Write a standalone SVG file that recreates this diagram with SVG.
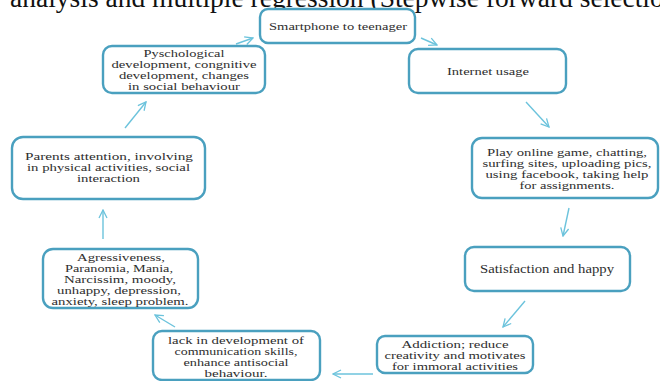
<svg xmlns="http://www.w3.org/2000/svg" width="660" height="381" viewBox="0 0 660 381">
<defs>
<style>
.box{fill:#fff;stroke:#4aa0bf;stroke-width:2.4}
.t{font-family:"Liberation Serif","Times New Roman",serif;font-size:11px;fill:#2e2e2e;text-anchor:middle}
.m{font-size:12px}
.s{font-size:10.5px}
.cn{fill:none;stroke:#6cc3dc;stroke-width:1.4}
.title{font-family:"Liberation Serif","Times New Roman",serif;font-size:27.5px;fill:#111}
</style>
<marker id="ah" viewBox="0 0 10 10" refX="9" refY="5" markerWidth="10" markerHeight="10" markerUnits="userSpaceOnUse" orient="auto">
<path d="M1,1 L9,5 L1,9" fill="none" stroke="#6cc3dc" stroke-width="1.3"/>
</marker>
</defs>
<rect width="660" height="381" fill="#fff"/>
<text class="title" x="10" y="7">analysis and multiple regression (Stepwise forward selection</text>

<g id="connectors">
<line class="cn" x1="421" y1="38" x2="437" y2="45" marker-end="url(#ah)"/>
<line class="cn" x1="526" y1="102" x2="549" y2="127" marker-end="url(#ah)"/>
<line class="cn" x1="569" y1="208" x2="563" y2="236" marker-end="url(#ah)"/>
<line class="cn" x1="525" y1="301" x2="503" y2="327" marker-end="url(#ah)"/>
<line class="cn" x1="373" y1="374" x2="333" y2="374" marker-end="url(#ah)"/>
<line class="cn" x1="175" y1="327" x2="155" y2="315" marker-end="url(#ah)"/>
<line class="cn" x1="103" y1="239" x2="103" y2="210" marker-end="url(#ah)"/>
<line class="cn" x1="125" y1="128" x2="146" y2="102" marker-end="url(#ah)"/>
<line class="cn" x1="236" y1="44" x2="253" y2="38" marker-end="url(#ah)"/>
</g>

<g id="smartphone">
<rect class="box" x="260" y="9" width="155" height="34" rx="8"/>
<text class="t s" x="338" y="30" textLength="138" lengthAdjust="spacingAndGlyphs">Smartphone to teenager</text>
</g>

<g id="internet">
<rect class="box" x="409" y="49" width="157" height="44" rx="9"/>
<text class="t s" x="488" y="75" textLength="82" lengthAdjust="spacingAndGlyphs">Internet usage</text>
</g>

<g id="activities">
<rect class="box" x="472" y="138" width="186" height="60" rx="10"/>
<text class="t" x="567" y="156" textLength="160" lengthAdjust="spacingAndGlyphs">Play online game, chatting,</text>
<text class="t" x="567" y="167" textLength="169" lengthAdjust="spacingAndGlyphs">surfing sites, uploading pics,</text>
<text class="t" x="567" y="178" textLength="163" lengthAdjust="spacingAndGlyphs">using facebook, taking help</text>
<text class="t" x="567" y="189" textLength="95" lengthAdjust="spacingAndGlyphs">for assignments.</text>
</g>

<g id="satisfaction">
<rect class="box" x="465" y="247" width="165" height="44" rx="9"/>
<text class="t m" x="547" y="273" textLength="134" lengthAdjust="spacingAndGlyphs">Satisfaction and happy</text>
</g>

<g id="addiction">
<rect class="box" x="377" y="336" width="156" height="37" rx="8"/>
<text class="t" x="455" y="348" textLength="107" lengthAdjust="spacingAndGlyphs">Addiction; reduce</text>
<text class="t" x="455" y="359" textLength="141" lengthAdjust="spacingAndGlyphs">creativity and motivates</text>
<text class="t" x="455" y="370" textLength="126" lengthAdjust="spacingAndGlyphs">for immoral activities</text>
</g>

<g id="communication">
<rect class="box" x="153" y="331" width="167" height="49" rx="9"/>
<text class="t" x="236" y="344" textLength="136" lengthAdjust="spacingAndGlyphs">lack in development of</text>
<text class="t" x="236" y="355" textLength="123" lengthAdjust="spacingAndGlyphs">communication skills,</text>
<text class="t" x="236" y="366" textLength="105" lengthAdjust="spacingAndGlyphs">enhance antisocial</text>
<text class="t" x="236" y="377" textLength="63" lengthAdjust="spacingAndGlyphs">behaviour.</text>
</g>

<g id="aggressiveness">
<rect class="box" x="43" y="249" width="155" height="59" rx="10"/>
<text class="t" x="121" y="261" textLength="88" lengthAdjust="spacingAndGlyphs">Agressiveness,</text>
<text class="t" x="119" y="272" textLength="108" lengthAdjust="spacingAndGlyphs">Paranomia, Mania,</text>
<text class="t" x="120" y="283" textLength="112" lengthAdjust="spacingAndGlyphs">Narcissim, moody,</text>
<text class="t" x="119" y="294" textLength="124" lengthAdjust="spacingAndGlyphs">unhappy, depression,</text>
<text class="t" x="120" y="305" textLength="137" lengthAdjust="spacingAndGlyphs">anxiety, sleep problem.</text>
</g>

<g id="parents">
<rect class="box" x="12" y="137" width="193" height="62" rx="11"/>
<text class="t" x="109" y="160" textLength="168" lengthAdjust="spacingAndGlyphs">Parents attention,  involving</text>
<text class="t" x="108.5" y="171" textLength="163" lengthAdjust="spacingAndGlyphs">in physical activities, social</text>
<text class="t" x="108.5" y="182" textLength="63" lengthAdjust="spacingAndGlyphs">interaction</text>
</g>

<g id="psychological">
<rect class="box" x="103" y="46" width="162" height="47" rx="9"/>
<text class="t" x="184" y="57" textLength="81" lengthAdjust="spacingAndGlyphs">Pyschological</text>
<text class="t" x="184" y="68" textLength="145" lengthAdjust="spacingAndGlyphs">development, congnitive</text>
<text class="t" x="184" y="79" textLength="130" lengthAdjust="spacingAndGlyphs">development, changes</text>
<text class="t" x="184" y="90" textLength="112" lengthAdjust="spacingAndGlyphs">in social behaviour</text>
</g>
</svg>
